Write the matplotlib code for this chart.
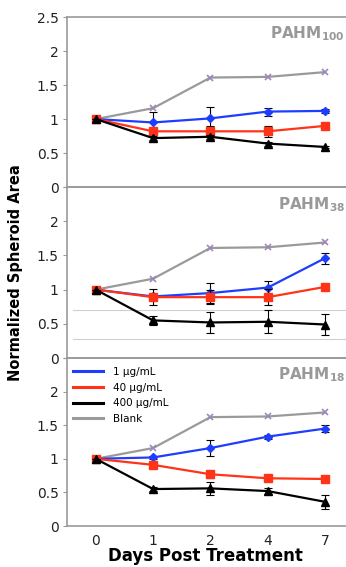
import matplotlib
matplotlib.use('Agg')
from matplotlib import pyplot as plt
from matplotlib.lines import Line2D

# Days post treatment (categorical positions on x)
days = ['0', '1', '2', '4', '7']
series = ['1 µg/mL', '40 µg/mL', '400 µg/mL', 'Blank']
panels = [r'PAHM$_{\mathbf{100}}$', r'PAHM$_{\mathbf{38}}$', r'PAHM$_{\mathbf{18}}$']

# PAHM100
p100_low = [1.0, 0.95, 1.01, 1.11, 1.12]
p100_low_err = [0.0, 0.15, 0.17, 0.06, 0.03]
p100_mid = [1.0, 0.82, 0.82, 0.82, 0.90]
p100_mid_err = [0.0, 0.05, 0.08, 0.08, 0.03]
p100_high = [1.0, 0.72, 0.74, 0.64, 0.59]
p100_high_err = [0.0, 0.03, 0.03, 0.03, 0.02]
p100_blank = [1.0, 1.16, 1.61, 1.62, 1.69]

# PAHM38
p38_low = [1.0, 0.90, 0.95, 1.03, 1.46]
p38_low_err = [0.0, 0.04, 0.14, 0.10, 0.08]
p38_mid = [1.0, 0.89, 0.89, 0.89, 1.04]
p38_mid_err = [0.0, 0.12, 0.10, 0.12, 0.03]
p38_high = [1.0, 0.55, 0.52, 0.53, 0.49]
p38_high_err = [0.0, 0.07, 0.16, 0.17, 0.16]
p38_blank = [1.0, 1.16, 1.61, 1.62, 1.69]

# PAHM18
p18_low = [1.0, 1.02, 1.16, 1.33, 1.45]
p18_low_err = [0.0, 0.02, 0.12, 0.03, 0.05]
p18_mid = [1.0, 0.91, 0.77, 0.71, 0.70]
p18_mid_err = [0.0, 0.04, 0.05, 0.04, 0.03]
p18_high = [1.0, 0.55, 0.56, 0.52, 0.36]
p18_high_err = [0.0, 0.03, 0.10, 0.05, 0.10]
p18_blank = [1.0, 1.16, 1.62, 1.63, 1.69]

data = [
    (p100_low, p100_low_err, p100_mid, p100_mid_err, p100_high, p100_high_err, p100_blank),
    (p38_low, p38_low_err, p38_mid, p38_mid_err, p38_high, p38_high_err, p38_blank),
    (p18_low, p18_low_err, p18_mid, p18_mid_err, p18_high, p18_high_err, p18_blank),
]

BLUE = '#1f3dff'
RED = '#ff3318'
BLACK = '#000000'
GRAY = '#9a9a9a'
SPINE = '#9a9a9a'

fig = plt.figure(figsize=(3.46, 5.67), dpi=100)
left, width = 0.194, 0.815
bounds = [(0.670, 0.970), (0.3686, 0.670), (0.0723, 0.3686)]
x = list(range(len(days)))

for i, (low, low_e, mid, mid_e, high, high_e, blank) in enumerate(data):
    b, t = bounds[i]
    ax = fig.add_axes([left, b, width, t - b])
    ax.set_facecolor('none')

    ax.plot(x, blank, color=GRAY, lw=1.6, zorder=2)
    ax.plot(x, blank, ls='none', marker='x', ms=5, mew=1.2,
            color='#9c88b8', zorder=3)

    ax.errorbar(x, low, yerr=low_e, color=BLUE, lw=1.6, marker='D', ms=4.5,
                ecolor='black', elinewidth=0.8, capsize=3, capthick=0.8,
                zorder=4)
    ax.errorbar(x, mid, yerr=mid_e, color=RED, lw=1.6, marker='s', ms=6,
                ecolor='black', elinewidth=0.8, capsize=3, capthick=0.8,
                zorder=5)
    ax.errorbar(x, high, yerr=high_e, color=BLACK, lw=1.6, marker='^', ms=5.5,
                ecolor='black', elinewidth=0.8, capsize=3, capthick=0.8,
                zorder=6)

    ax.set_xlim(-0.5, 4.42)
    ax.set_ylim(0, 2.5)
    ax.set_yticks([0, 0.5, 1, 1.5, 2, 2.5])
    if i == 0:
        ax.set_yticklabels(['0', '0.5', '1', '1.5', '2', '2.5'])
    else:
        ax.set_yticklabels(['0', '0.5', '1', '1.5', '2', ''])

    ax.spines['right'].set_visible(False)
    for side in ['left', 'top', 'bottom']:
        ax.spines[side].set_color(SPINE)
        ax.spines[side].set_linewidth(1.2)
    ax.tick_params(axis='y', length=3, color=SPINE, labelsize=10,
                   labelcolor='#222222', pad=3)
    ax.set_xticks(x)
    if i == 2:
        ax.set_xticklabels(days)
        ax.tick_params(axis='x', length=0, labelsize=10,
                       labelcolor='#222222', pad=6)
    else:
        ax.tick_params(axis='x', length=0, labelbottom=False)

    ax.text(0.985, 0.955, panels[i], transform=ax.transAxes, ha='right',
            va='top', fontsize=11, fontweight='bold', color='#999999')

    if i == 1:
        # faint stray rules across the middle panel
        ax.axhline(0.70, xmin=0.02, color='#d0d0d0', lw=0.8, zorder=1)
        ax.axhline(0.275, xmin=0.02, color='#d0d0d0', lw=0.8, zorder=1)

    if i == 2:
        handles = [Line2D([], [], color=c, lw=2.2)
                   for c in [BLUE, RED, BLACK, GRAY]]
        ax.legend(handles, series, loc='upper left', frameon=False,
                  fontsize=7.5, handlelength=2.8, handletextpad=1.0,
                  labelspacing=0.55, borderaxespad=0.2,
                  bbox_to_anchor=(0.0, 0.985))

fig.text(0.045, 0.52, 'Normalized Spheroid Area', rotation=90, ha='center',
         va='center', fontsize=10.5, fontweight='bold')
fig.text(0.595, 0.003, 'Days Post Treatment', ha='center', va='bottom',
         fontsize=12, fontweight='bold')

fig.savefig('out.png', dpi=100)
